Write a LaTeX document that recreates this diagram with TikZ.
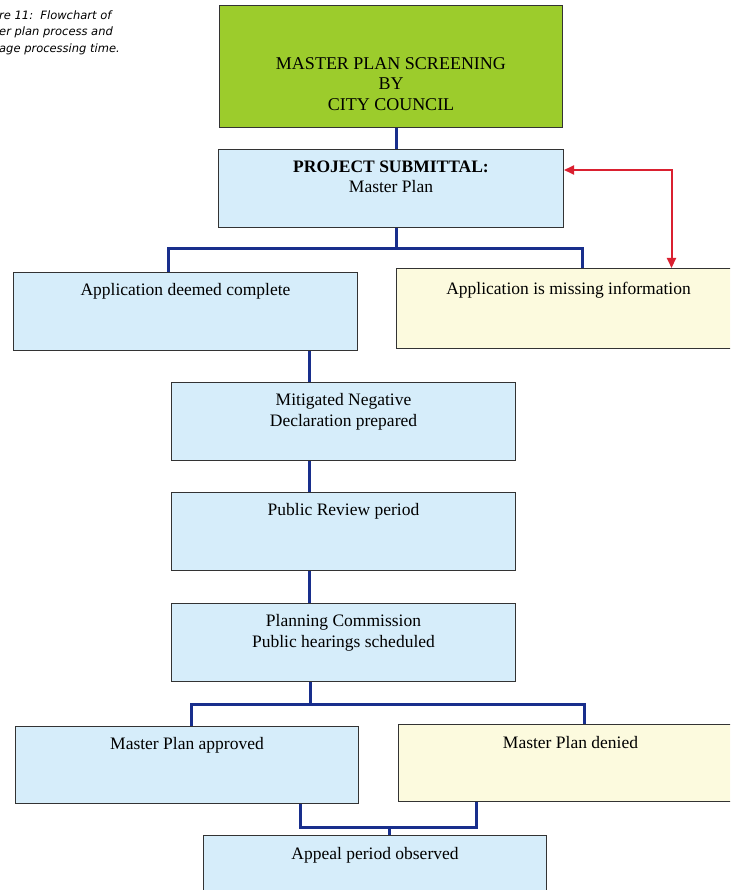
\documentclass[tikz,border=0pt]{standalone}
\usepackage{fontspec}
\setmainfont{Liberation Serif}
\newfontfamily\capfont{DejaVu Sans}
\usetikzlibrary{arrows.meta,calc}
\definecolor{lime}{RGB}{156,204,44}
\definecolor{lblue}{RGB}{214,237,250}
\definecolor{lyellow}{RGB}{252,250,222}
\definecolor{cblue}{RGB}{24,46,140}
\definecolor{cred}{RGB}{218,32,48}
\newcommand{\btext}[4]{\parbox[c][#2][t]{#1}{\centering\rule{0pt}{#3}#4}}
\tikzset{
  box/.style={draw=black!80, line width=1pt, inner sep=0pt, anchor=north west,
    font=\fontsize{17.5}{20.5}\selectfont},
  conn/.style={draw=cblue, line width=3pt},
  redarr/.style={draw=cred, line width=2pt, {Triangle[length=10pt,width=9pt]}-{Triangle[length=10pt,width=9pt]}},
  captext/.style={anchor=west, inner sep=0pt, font=\capfont\itshape\fontsize{11.5}{13}\selectfont, text=black}
}
\begin{document}
\begin{tikzpicture}[x=1pt,y=-1pt]
\useasboundingbox (0,0) rectangle (730,890);
\fill[white] (0,0) rectangle (730,890);
\clip (0,0) rectangle (730,890);

% caption
\node[captext] (cap1) at (-1,15) {re 11:\ \ Flowchart of};
\node[captext] (cap2) at (-1,32) {er plan process and};
\node[captext] (cap3) at (-1,49) {age processing time.};

% boxes
\node[box, fill=lime, font=\fontsize{18}{20.5}\selectfont] (g) at (219,5)
  {\btext{343pt}{122pt}{64pt}{MASTER PLAN SCREENING\\BY\\CITY COUNCIL}};
\node[box, fill=lblue] (ps) at (218,149)
  {\btext{345pt}{78pt}{23pt}{\textbf{PROJECT SUBMITTAL:}\\Master Plan}};
\node[box, fill=lblue] (adc) at (13,272)
  {\btext{344pt}{78pt}{23pt}{Application deemed complete}};
\node[box, fill=lyellow] (ami) at (396,268)
  {\btext{344pt}{80pt}{26pt}{Application is missing information}};
\node[box, fill=lblue] (mnd) at (171,382)
  {\btext{344pt}{78pt}{23pt}{Mitigated Negative\\Declaration prepared}};
\node[box, fill=lblue] (pr) at (171,492)
  {\btext{344pt}{78pt}{23pt}{Public Review period}};
\node[box, fill=lblue] (pc) at (171,603)
  {\btext{344pt}{78pt}{23pt}{Planning Commission\\Public hearings scheduled}};
\node[box, fill=lblue] (mpa) at (15,726)
  {\btext{343pt}{77pt}{23pt}{Master Plan approved}};
\node[box, fill=lyellow] (mpd) at (398,724)
  {\btext{344pt}{77pt}{24pt}{Master Plan denied}};
\node[box, fill=lblue] (apo) at (203,835)
  {\btext{343pt}{78pt}{24pt}{Appeal period observed}};

% connectors
\draw[conn] ([xshift=5.5pt]g.south) -- ([xshift=5.5pt]g.south |- ps.north);
\draw[conn] ([xshift=5.5pt]ps.south) -- ++(0,21) coordinate (j1);
\draw[conn] ([xshift=-17pt]adc.north) |- (j1) -| ([xshift=14pt]ami.north);
\draw[conn] ([xshift=124pt]adc.south) -- ([xshift=124pt]adc.south |- mnd.north);
\draw[conn] ([xshift=-34pt]mnd.south) -- ([xshift=-34pt]pr.north);
\draw[conn] ([xshift=-34pt]pr.south) -- ([xshift=-34pt]pc.north);
\draw[conn] ([xshift=-33pt]pc.south) -- ++(0,22) coordinate (j2);
\draw[conn] ([xshift=4.5pt]mpa.north) |- (j2) -| ([xshift=14pt]mpd.north);
\draw[conn] ([xshift=113.5pt]mpa.south) |- ([xshift=14pt,yshift=8pt]apo.north) coordinate (j3);
\draw[conn] ([xshift=-94pt]mpd.south) |- (j3);
\draw[conn] (j3) -- ([xshift=14pt]apo.north);

% red feedback arrow
\draw[redarr] ([yshift=-21pt]ps.north east) -| ([xshift=103pt]ami.north);
\end{tikzpicture}
\end{document}
